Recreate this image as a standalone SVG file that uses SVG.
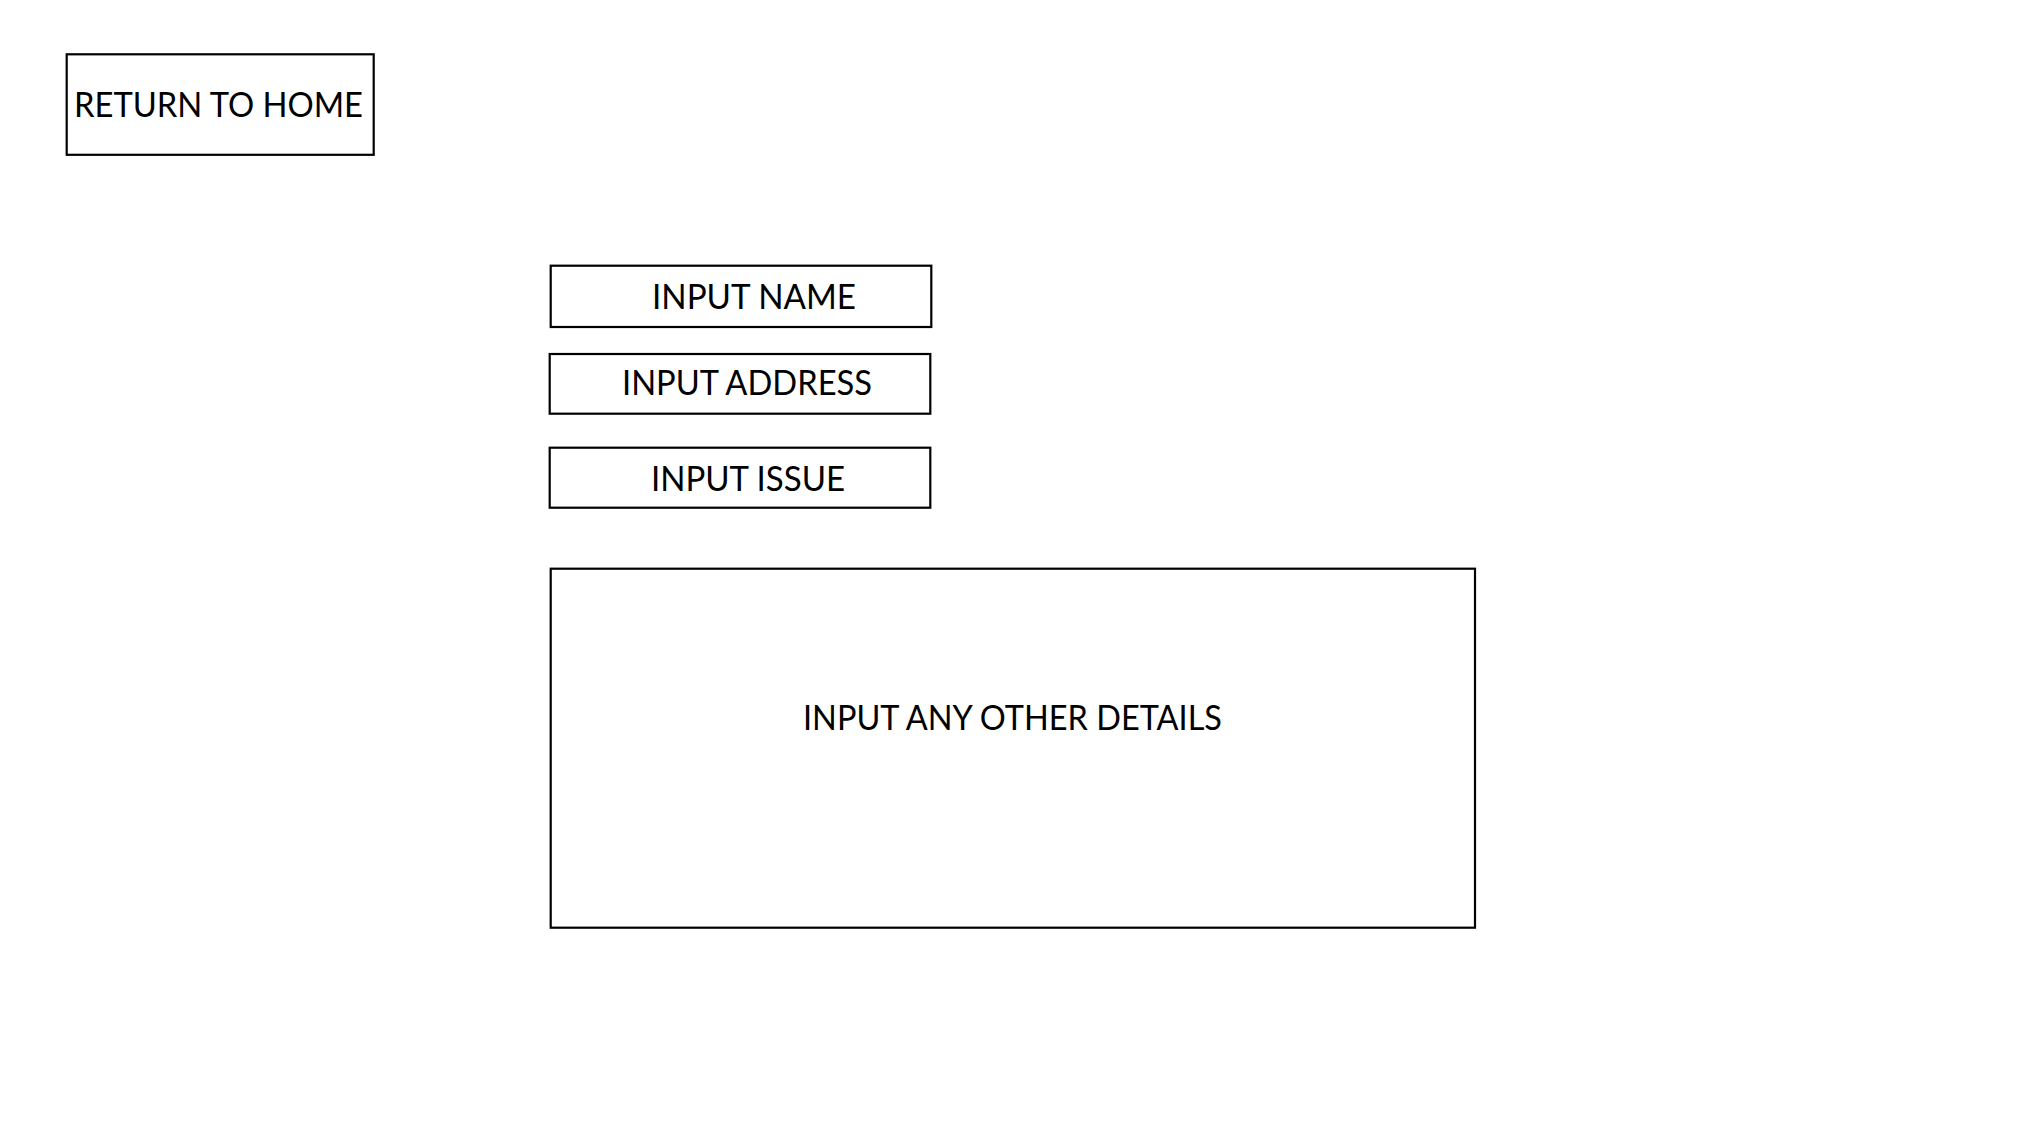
<svg xmlns="http://www.w3.org/2000/svg" width="2034" height="1140" viewBox="0 0 2034 1140">
<style>
.box{fill:#ffffff;stroke:#000000;stroke-width:2.2}
.lbl{font-family:Lato,"Open Sans","Liberation Sans",sans-serif;font-size:34px;fill:#000000}
</style>
<rect x="0" y="0" width="2034" height="1140" fill="#ffffff"/>
<g id="return-home">
<rect class="box" x="66.7" y="54.3" width="307" height="100.5"/>
<text class="lbl" x="74" y="117.3" textLength="289" lengthAdjust="spacingAndGlyphs">RETURN TO HOME</text>
</g>
<g id="input-name">
<rect class="box" x="550.7" y="265.7" width="380.6" height="61.3"/>
<text class="lbl" x="652" y="309.3" textLength="204" lengthAdjust="spacingAndGlyphs">INPUT NAME</text>
</g>
<g id="input-address">
<rect class="box" x="549.7" y="354" width="380.6" height="59.7"/>
<text class="lbl" x="622" y="394.7" textLength="250" lengthAdjust="spacingAndGlyphs">INPUT ADDRESS</text>
</g>
<g id="input-issue">
<rect class="box" x="549.7" y="447.7" width="380.6" height="60"/>
<text class="lbl" x="651" y="490.7" textLength="194" lengthAdjust="spacingAndGlyphs">INPUT ISSUE</text>
</g>
<g id="input-details">
<rect class="box" x="550.7" y="568.7" width="924.3" height="359"/>
<text class="lbl" x="803" y="730" textLength="419" lengthAdjust="spacingAndGlyphs">INPUT ANY OTHER DETAILS</text>
</g>
<g id="connectors"></g>
</svg>
